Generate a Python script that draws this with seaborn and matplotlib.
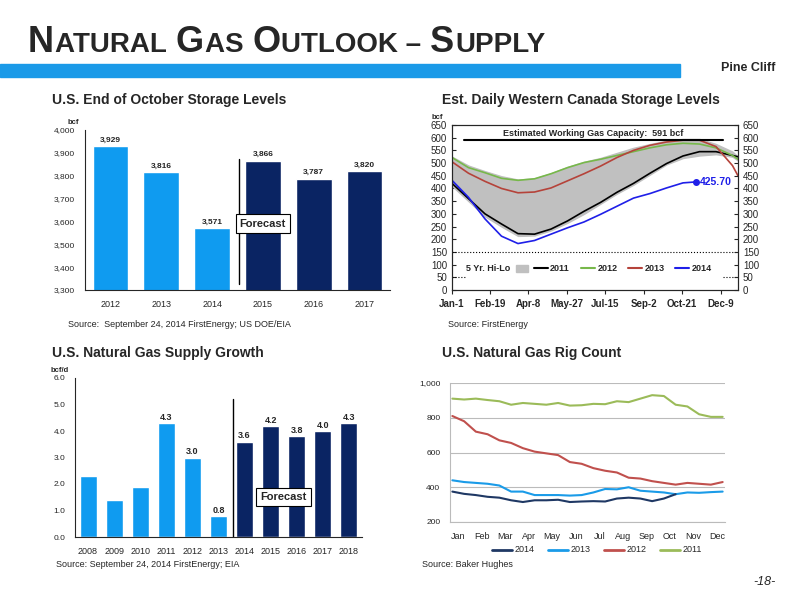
import numpy as np
import pandas as pd
import matplotlib
matplotlib.use("Agg")
import matplotlib.pyplot as plt
import seaborn as sns

sns.set_style("white")
plt.rcParams['font.family'] = ['Liberation Sans', 'DejaVu Sans']

# storage levels (bcf)
stor_years = ['2012', '2013', '2014', '2015', '2016', '2017']
stor_vals = [3929, 3816, 3571, 3866, 3787, 3820]
# supply growth (bcf/d)
sup_years = ['2008', '2009', '2010', '2011', '2012', '2013', '2014', '2015', '2016', '2017', '2018']
sup_vals = [2.3, 1.4, 1.9, 4.3, 3.0, 0.8, 3.6, 4.2, 3.8, 4.0, 4.3]
sup_labels = ['', '', '', '4.3', '3.0', '0.8', '3.6', '4.2', '3.8', '4.0', '4.3']

# western canada storage, sampled by day of year
wc_day = [0, 21, 42, 63, 84, 105, 126, 147, 168, 189, 210, 231, 252, 273, 294, 315, 336, 357, 364]
wc_2011 = [420, 360, 300, 260, 222, 220, 240, 272, 310, 345, 385, 420, 460, 498, 528, 545, 545, 530, 525]
wc_2012 = [522, 482, 462, 440, 432, 438, 458, 482, 502, 515, 530, 545, 560, 572, 578, 575, 560, 530, 515]
wc_2013 = [505, 460, 428, 400, 383, 386, 402, 430, 458, 488, 522, 550, 570, 583, 590, 590, 565, 490, 450]
wc_hi = [525, 490, 468, 448, 435, 440, 460, 485, 505, 520, 540, 560, 575, 588, 595, 595, 575, 545, 525]
wc_lo = [410, 350, 290, 250, 213, 215, 235, 265, 300, 340, 380, 415, 455, 495, 520, 530, 535, 525, 510]
wc14_day = [0, 21, 42, 63, 84, 105, 126, 147, 168, 189, 210, 231, 252, 273, 294, 310]
wc_2014 = [432, 365, 280, 212, 183, 195, 220, 245, 268, 298, 330, 362, 380, 402, 422, 425.7]
wc_ticks = ['Jan-1', 'Feb-19', 'Apr-8', 'May-27', 'Jul-15', 'Sep-2', 'Oct-21', 'Dec-9']

# rig count, half-month samples
rig_2011 = [910, 905, 910, 902, 895, 875, 885, 880, 875, 885, 870, 872, 880, 878, 895, 890, 910, 930, 925, 875, 865, 820, 805, 805]
rig_2012 = [810, 780, 720, 705, 670, 655, 625, 605, 595, 585, 545, 535, 510, 495, 485, 455, 450, 435, 425, 415, 425, 420, 415, 430]
rig_2013 = [440, 430, 425, 420, 410, 375, 375, 355, 355, 355, 352, 355, 370, 390, 388, 400, 380, 375, 370, 360, 370, 368, 372, 375]
rig_2014 = [375, 362, 355, 345, 340, 325, 315, 325, 325, 328, 315, 318, 320, 318, 335, 340, 335, 320, 335, 360]
months = ['Jan', 'Feb', 'Mar', 'Apr', 'May', 'Jun', 'Jul', 'Aug', 'Sep', 'Oct', 'Nov', 'Dec']

LB = '#0f9bf0'
NV = '#0a2463'

fig = plt.figure(figsize=(8, 6), dpi=100)

def ax_px(x0, y0, x1, y1):
    return fig.add_axes([x0 / 800, 1 - y1 / 600, (x1 - x0) / 800, (y1 - y0) / 600])

# header (small caps), pieces chained by measured width
rend = fig.canvas.get_renderer()
xpos = 28
for t, big in [('N', 1), ('ATURAL ', 0), ('G', 1), ('AS ', 0), ('O', 1),
               ('UTLOOK – ', 0), ('S', 1), ('UPPLY', 0)]:
    txt = fig.text(xpos / 800, 0.913, t.replace(' ', '\u00a0'), fontsize=26 if big else 20, fontweight='bold')
    xpos += txt.get_window_extent(rend).width + 1
fig.patches.append(plt.Rectangle((0, 0.872), 0.85, 0.022, color='#1a9ae8', transform=fig.transFigure))
fig.text(0.935, 0.882, 'Pine Cliff', fontsize=9, fontweight='bold', ha='center')
fig.text(0.97, 0.025, '-18-', fontsize=9, ha='right', style='italic')

# top-left
ax = ax_px(85, 130, 390, 290)
df = pd.DataFrame({'year': stor_years, 'val': stor_vals})
sns.barplot(data=df, x='year', y='val', hue='year', palette=[LB] * 3 + [NV] * 3, legend=False,
            width=0.7, saturation=1, ax=ax)
ax.set_ylim(3300, 4000)
ax.set_yticks(range(3300, 4001, 100))
ax.set_yticklabels([f'{v:,}' for v in range(3300, 4001, 100)], fontsize=6)
ax.tick_params(axis='x', labelsize=6.5)
for i, v in enumerate(stor_vals):
    ax.text(i, v + 20, f'{v:,}', ha='center', fontsize=6, fontweight='bold')
ax.axvline(2.52, ymin=0.04, ymax=0.82, color='black', lw=1)
ax.text(3.0, 3590, 'Forecast', ha='center', va='center', fontsize=8, fontweight='bold',
        bbox=dict(facecolor='white', edgecolor='black', lw=0.8, pad=3))
ax.set_xlabel(''); ax.set_ylabel('')
ax.text(-0.02, 1.04, 'bcf', transform=ax.transAxes, fontsize=5.5, fontweight='bold', ha='right')
for s in ['top', 'right']:
    ax.spines[s].set_visible(False)
fig.text(0.065, 0.827, 'U.S. End of October Storage Levels', fontsize=10, fontweight='bold')
fig.text(0.085, 0.455, 'Source:  September 24, 2014 FirstEnergy; US DOE/EIA', fontsize=6.5)

# bottom-left
ax = ax_px(75, 378, 362, 537)
df = pd.DataFrame({'year': sup_years, 'val': sup_vals})
sns.barplot(data=df, x='year', y='val', hue='year', palette=[LB] * 6 + [NV] * 5, legend=False,
            width=0.65, saturation=1, ax=ax)
ax.set_ylim(0, 6)
ax.set_yticks(np.arange(0, 6.1, 1))
ax.set_yticklabels([f'{v:.1f}' for v in np.arange(0, 6.1, 1)], fontsize=6)
ax.tick_params(axis='x', labelsize=6.5)
for i, (v, l) in enumerate(zip(sup_vals, sup_labels)):
    ax.text(i, v + 0.12, l, ha='center', fontsize=6.5, fontweight='bold')
ax.axvline(5.55, ymin=0.0, ymax=0.87, color='black', lw=1)
ax.text(7.5, 1.5, 'Forecast', ha='center', va='center', fontsize=8, fontweight='bold',
        bbox=dict(facecolor='white', edgecolor='black', lw=0.8, pad=3))
ax.set_xlabel(''); ax.set_ylabel('')
ax.text(-0.02, 1.04, 'bcf/d', transform=ax.transAxes, fontsize=5.5, fontweight='bold', ha='right')
for s in ['top', 'right']:
    ax.spines[s].set_visible(False)
fig.text(0.065, 0.405, 'U.S. Natural Gas Supply Growth', fontsize=10, fontweight='bold')
fig.text(0.07, 0.055, 'Source: September 24, 2014 FirstEnergy; EIA', fontsize=6.5)

# top-right
ax = ax_px(452, 125, 738, 290)
ax.fill_between(wc_day, wc_lo, wc_hi, color='#c0c0c0')
sns.lineplot(x=wc_day, y=wc_2011, color='black', lw=1.2, ax=ax)
sns.lineplot(x=wc_day, y=wc_2012, color='#77b84a', lw=1.2, ax=ax)
sns.lineplot(x=wc_day, y=wc_2013, color='#b5433a', lw=1.2, ax=ax)
sns.lineplot(x=wc14_day, y=wc_2014, color='#1f1fe8', lw=1.2, ax=ax)
ax.plot(wc14_day[-1], wc_2014[-1], 'o', color='#1f1fe8', ms=4)
ax.text(wc14_day[-1] + 6, wc_2014[-1], '425.70', color='#1f1fe8', fontsize=7.5, fontweight='bold', va='center')
ax.plot([15, 345], [591, 591], color='black', lw=1.5)
ax.text(180, 605, 'Estimated Working Gas Capacity:  591 bcf', ha='center', fontsize=6.5, fontweight='bold')
ax.axhline(150, color='black', ls=':', lw=0.8)
ax.plot([0, 18], [50, 50], color='black', ls=':', lw=0.8)
ax.plot([345, 364], [50, 50], color='black', ls=':', lw=0.8)
ax.set_xlim(0, 364); ax.set_ylim(0, 650)
ax.set_xticks([0, 49, 97, 146, 195, 244, 293, 342])
ax.set_xticklabels(wc_ticks, fontsize=7, fontweight='bold')
ax.set_yticks(range(0, 651, 50))
ax.tick_params(axis='y', labelsize=7, direction='in', length=3, left=True)
ax.tick_params(axis='x', direction='out', length=3, bottom=True)
ax2 = ax.twinx()
ax2.set_ylim(0, 650); ax2.set_yticks(range(0, 651, 50))
ax2.tick_params(axis='y', labelsize=7, direction='in', length=3, right=True)
ax.text(-0.03, 1.035, 'bcf', transform=ax.transAxes, fontsize=5.5, fontweight='bold', ha='right')
ax.text(18, 85, '5 Yr. Hi-Lo', fontsize=6.5, fontweight='bold', va='center')
ax.add_patch(plt.Rectangle((82, 72), 15, 26, color='#c0c0c0'))
for i, (lab, c) in enumerate([('2011', 'black'), ('2012', '#77b84a'), ('2013', '#b5433a'), ('2014', '#1f1fe8')]):
    x0 = 104 + i * 60
    ax.plot([x0, x0 + 18], [85, 85], color=c, lw=1.5)
    ax.text(x0 + 21, 85, lab, fontsize=6.5, fontweight='bold', va='center')
fig.text(0.553, 0.827, 'Est. Daily Western Canada Storage Levels', fontsize=10, fontweight='bold')
fig.text(0.56, 0.455, 'Source: FirstEnergy', fontsize=6.5)

# bottom-right
ax = ax_px(450, 383, 725, 522)
xh = np.arange(len(rig_2011)) / 2
sns.lineplot(x=xh, y=rig_2011, color='#9bbb59', lw=1.5, ax=ax)
sns.lineplot(x=xh, y=rig_2012, color='#c0504d', lw=1.5, ax=ax)
sns.lineplot(x=xh, y=rig_2013, color='#1a9be8', lw=1.5, ax=ax)
sns.lineplot(x=xh[:len(rig_2014)], y=rig_2014, color='#1f3864', lw=1.5, ax=ax)
ax.set_ylim(200, 1000); ax.set_xlim(-0.1, 11.6)
ax.set_yticks(range(200, 1001, 200))
ax.set_yticklabels(['200', '400', '600', '800', '1,000'], fontsize=6)
ax.set_xticks(np.arange(12) + 0.25)
ax.set_xticklabels(months, fontsize=6.5)
ax.grid(axis='y', color='#bbbbbb', lw=0.8)
for s in ['top', 'right']:
    ax.spines[s].set_visible(False)
ax.spines['left'].set_color('#bbbbbb'); ax.spines['bottom'].set_color('#bbbbbb')
for i, (lab, c) in enumerate([('2014', '#1f3864'), ('2013', '#1a9be8'), ('2012', '#c0504d'), ('2011', '#9bbb59')]):
    x0 = 0.615 + i * 0.07
    fig.add_artist(plt.Line2D([x0, x0 + 0.025], [0.084, 0.084], color=c, lw=2))
    fig.text(x0 + 0.028, 0.084, lab, fontsize=6.5, va='center')
fig.text(0.553, 0.405, 'U.S. Natural Gas Rig Count', fontsize=10, fontweight='bold')
fig.text(0.527, 0.055, 'Source: Baker Hughes', fontsize=6.5)

fig.savefig('out.png', dpi=100)
